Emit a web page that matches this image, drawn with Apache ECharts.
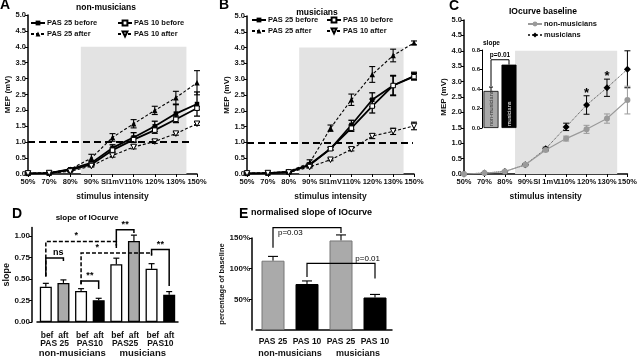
<!DOCTYPE html>
<html>
<head>
<meta charset="utf-8">
<script src="https://cdn.jsdelivr.net/npm/echarts@6/dist/echarts.min.js"></script>
<style>
  html, body { margin: 0; padding: 0; background: #fff; }
  #chart { width: 640px; height: 358px; }
</style>
</head>
<body>
<div id="chart"></div>
<script>
// stimulus intensities (x categories of panels A-C)
const intensities = ['50%', '70%', '80%', '90%', 'SI1mV', '110%', '120%', '130%', '150%']
const intensitiesC = ['50%', '70%', '80%', '90%', 'SI 1mV', '110%', '120%', '130%', '150%']

// A: non-musicians, MEP (mV)
const nmPas25Before = [0.02, 0.03, 0.15, 0.35, 0.82, 1.15, 1.5, 1.9, 2.2]
const nmPas25BeforeErr = [0.01, 0.01, 0.02, 0.06, 0.1, 0.15, 0.16, 0.28, 0.38]
const nmPas10Before = [0.02, 0.03, 0.12, 0.3, 0.75, 1.08, 1.38, 1.72, 2.07]
const nmPas10BeforeErr = [0.01, 0.01, 0.02, 0.04, 0.07, 0.08, 0.1, 0.1, 0.05]
const nmPas25After = [0.02, 0.04, 0.15, 0.5, 1.15, 1.58, 2.0, 2.4, 2.87]
const nmPas25AfterErr = [0.01, 0.01, 0.02, 0.12, 0.12, 0.13, 0.13, 0.2, 0.38]
const nmPas10After = [0.02, 0.03, 0.08, 0.25, 0.58, 0.85, 1.02, 1.27, 1.58]
const nmPas10AfterErr = [0.01, 0.01, 0.01, 0.03, 0.05, 0.06, 0.06, 0.05, 0.05]

// B: musicians, MEP (mV)
const mPas25Before = [0.02, 0.03, 0.07, 0.3, 0.8, 1.55, 2.35, 2.8, 3.1]
const mPas25BeforeErr = [0.01, 0.01, 0.02, 0.05, 0.05, 0.15, 0.22, 0.32, 0.12]
const mPas10Before = [0.02, 0.03, 0.06, 0.28, 0.8, 1.45, 2.15, 2.8, 3.08]
const mPas10BeforeErr = [0.01, 0.01, 0.02, 0.04, 0.04, 0.1, 0.22, 0.3, 0.1]
const mPas25After = [0.02, 0.04, 0.08, 0.35, 1.45, 2.35, 3.15, 3.75, 4.15]
const mPas25AfterErr = [0.01, 0.01, 0.02, 0.1, 0.1, 0.18, 0.25, 0.2, 0.06]
const mPas10After = [0.02, 0.03, 0.05, 0.22, 0.45, 0.78, 1.2, 1.35, 1.52]
const mPas10AfterErr = [0.01, 0.01, 0.01, 0.03, 0.03, 0.05, 0.08, 0.1, 0.12]

// C: IO curve baseline
const baseNm = [0.0, 0.03, 0.08, 0.3, 0.78, 1.15, 1.45, 1.8, 2.4]
const baseNmErr = [0.01, 0.01, 0.02, 0.03, 0.05, 0.08, 0.13, 0.15, 0.45]
const baseM = [0.0, 0.03, 0.08, 0.3, 0.82, 1.53, 2.24, 2.8, 3.4]
const baseMErr = [0.01, 0.01, 0.02, 0.03, 0.05, 0.12, 0.3, 0.28, 0.6]
const baseSigIdx = [6, 7]

// C inset: slope
const insetGroups = ['non-musicians', 'musicians']
const insetSlope = [0.38, 0.65]
const insetSlopeErr = [0.04, 0.0]
const insetTicks = [0, 0.2, 0.4, 0.6, 0.8]

// D: slope of IO curve, bef/aft per condition
const dConditions = ['PAS 25', 'PAS10', 'PAS25', 'PAS10']
const dGroups = ['non-musicians', 'musicians']
const slopeBef = [0.41, 0.362, 0.672, 0.619]
const slopeBefErr = [0.04, 0.026, 0.071, 0.06]
const slopeAft = [0.455, 0.254, 0.944, 0.317]
const slopeAftErr = [0.035, 0.022, 0.067, 0.037]
const dTicks = [0, 0.25, 0.5, 0.75, 1.0]

// E: normalised slope (% of baseline)
const eConditions = ['PAS 25', 'PAS 10', 'PAS 25', 'PAS 10']
const eGroups = ['non-musicians', 'musicians']
const normSlope = [113, 75, 146, 53]
const normSlopeErr = [7, 5, 9, 5]
const eTicks = [50, 100, 150]

const FONT = '"Liberation Sans", Arial, sans-serif'
const txt = (size, weight) => ({ fontSize: size, fontWeight: weight || 'bold', color: '#111', fontFamily: FONT })

const chart = echarts.init(document.getElementById('chart'))

// x axis for the IO curves: value axis over category index so the shaded band can sit between ticks
const ioX = (grid, labels) => ({
  type: 'value', gridIndex: grid, min: 0, max: 8, interval: 1,
  axisLine: { show: true, onZero: false, lineStyle: { color: '#000', width: 1.5 } },
  axisTick: { show: true, length: 3, lineStyle: { color: '#000' } },
  axisLabel: { ...txt(7.5), margin: 4, formatter: v => labels[v] || '' },
  splitLine: { show: false },
  name: 'stimulus intensity', nameLocation: 'middle', nameGap: 18, nameTextStyle: txt(8.5)
})

const mepY = grid => ({
  type: 'value', gridIndex: grid, min: 0, max: 5, interval: 0.5,
  axisLine: { show: true, lineStyle: { color: '#000', width: 1.5 } },
  axisTick: { show: true, length: 3, lineStyle: { color: '#000' } },
  axisLabel: { ...txt(7.5), margin: 2, formatter: v => v.toFixed(1) },
  splitLine: { show: false },
  name: 'MEP (mV)', nameLocation: 'middle', nameGap: 15, nameTextStyle: txt(8)
})

// grey band + dashed 1 mV line
const bgSeries = (xi, yi, lineEnd) => ({
  type: 'line', xAxisIndex: xi, yAxisIndex: yi, data: [], z: 0, silent: true,
  markArea: { silent: true, itemStyle: { color: '#e3e3e3' }, data: [[{ coord: [2.5, 0] }, { coord: [7.5, 4] }]] },
  markLine: {
    silent: true, symbol: 'none', label: { show: false },
    lineStyle: { color: '#000', type: [7, 4], width: 2 },
    data: [[{ coord: [0, 1] }, { coord: [lineEnd, 1] }]]
  }
})

const STYLES = {
  'PAS 25 before': { symbol: 'rect', symbolSize: 4.5, itemStyle: { color: '#000' }, lineStyle: { color: '#000', width: 1.8 } },
  'PAS 10 before': { symbol: 'rect', symbolSize: 4.5, itemStyle: { color: '#fff', borderColor: '#000', borderWidth: 1 }, lineStyle: { color: '#000', width: 1.8 } },
  'PAS 25 after': { symbol: 'triangle', symbolSize: 5.5, itemStyle: { color: '#000' }, lineStyle: { color: '#000', width: 1.1, type: [3, 2] } },
  'PAS 10 after': { symbol: 'triangle', symbolRotate: 180, symbolSize: 5.5, itemStyle: { color: '#fff', borderColor: '#000', borderWidth: 1 }, lineStyle: { color: '#000', width: 1.1, type: [3, 2] } },
  'non-musicians': { symbol: 'circle', symbolSize: 6, itemStyle: { color: '#9a9a9a' }, lineStyle: { color: '#9a9a9a', width: 1.2 } },
  'musicians': { symbol: 'diamond', symbolSize: 7, itemStyle: { color: '#000' }, lineStyle: { color: '#444', width: 1, type: 'dotted' } }
}

const ioLine = (name, xi, yi, vals, z) => ({
  name, type: 'line', xAxisIndex: xi, yAxisIndex: yi, z: z || 3, silent: true,
  data: vals.map((v, i) => [i, v]), ...STYLES[name]
})

// error bars drawn through the axes
const errBars = (xi, yi, means, errs, opt) => {
  opt = opt || {}
  return {
    type: 'custom', xAxisIndex: xi, yAxisIndex: yi, z: opt.z || 2, silent: true,
    data: means.map((m, i) => [i, m, errs[i]]),
    renderItem (params, api) {
      const i = api.value(0), m = api.value(1), e = api.value(2)
      if (!e) return null
      const cap = opt.cap || 3
      const t = api.coord([i, m + e])
      const b = api.coord([i, opt.upOnly ? m : m - e])
      const x = t[0] + (opt.dx || 0)
      const st = { stroke: opt.color || '#000', lineWidth: opt.width || 1.3 }
      const kids = [
        { type: 'line', shape: { x1: x, y1: t[1], x2: x, y2: b[1] }, style: st },
        { type: 'line', shape: { x1: x - cap, y1: t[1], x2: x + cap, y2: t[1] }, style: st }
      ]
      if (!opt.upOnly) kids.push({ type: 'line', shape: { x1: x - cap, y1: b[1], x2: x + cap, y2: b[1] }, style: st })
      return { type: 'group', children: kids }
    }
  }
}

// significance brackets: rows [from, to, yLine, yLeftEnd, yRightEnd]
const brackets = (xi, yi, rows, labels, xOf, opt) => ({
  type: 'custom', xAxisIndex: xi, yAxisIndex: yi, z: 6, silent: true, clip: false,
  data: rows.map(r => [r[0], r[2]]),
  renderItem (params, api) {
    const r = rows[params.dataIndex]
    const lab = labels[params.dataIndex]
    const x1 = xOf(r[0], api), x2 = xOf(r[1], api)
    const yl = api.coord([0, r[2]])[1], ya = api.coord([0, r[3]])[1], yb = api.coord([0, r[4]])[1]
    const style = { stroke: '#000', lineWidth: opt.width || 1.5, fill: null }
    if (lab.dashed) style.lineDash = [4, 2]
    const tx = x1 + (lab.frac == null ? 0.5 : lab.frac) * (x2 - x1) + (lab.dx || 0)
    return {
      type: 'group',
      children: [
        { type: 'polyline', shape: { points: [[x1, ya], [x1, yl], [x2, yl], [x2, yb]] }, style },
        {
          type: 'text',
          style: {
            text: lab.text, x: tx, y: yl + (lab.below ? 1 : -1),
            align: lab.align || 'center', verticalAlign: lab.below ? 'top' : 'bottom',
            fill: '#000', font: lab.font || ('bold 9px ' + FONT)
          }
        }
      ]
    }
  }
})

const catX = (c, api) => api.coord([c, 0])[0]
const D_OFF = 8.8
const dBarX = (b, api) => api.coord([Math.floor(b / 2), 0])[0] + (b % 2 ? 1 : -1) * D_OFF

const dRows = [
  [0, 4, 0.937, 0.53, 0.862],
  [0, 1, 0.746, 0.53, 0.71],
  [2, 6, 0.802, 0.44, 0.77],
  [2, 3, 0.478, 0.44, 0.384],
  [4, 5, 1.075, 0.888, 1.037],
  [6, 7, 0.843, 0.787, 0.42]
]
const dLabels = [
  { text: '*', dashed: true, frac: 0.43 },
  { text: 'ns', frac: 0.7, font: 'bold 9px ' + FONT },
  { text: '*', dashed: true, frac: 0.23 },
  { text: '**' },
  { text: '**' },
  { text: '**' }
]
const eRows = [
  [0, 2, 167, 134, 158],
  [1, 3, 108.7, 86.5, 84]
]
const eLabels = [
  { text: 'p=0.03', frac: 0, dx: 5, align: 'left', below: true, font: '8px ' + FONT },
  { text: 'p=0.01', frac: 1, dx: 5, align: 'right', font: '8px ' + FONT }
]
const insetRows = [[0, 1, 0.7, 0.43, 0.65]]
const insetLabels = [{ text: 'p=0.01', font: 'bold 6.5px ' + FONT }]

const legendBase = {
  orient: 'vertical', itemGap: 3, itemWidth: 14, itemHeight: 6, padding: 0,
  textStyle: { ...txt(7.5), padding: [0, 0, 0, -3] }
}

const title = (text, left, top, size, align) => ({
  text, left, top, textAlign: align || 'left', padding: 0,
  textStyle: { fontSize: size, fontWeight: 'bold', color: '#000', fontFamily: FONT }
})

const option = {
  animation: false,
  backgroundColor: '#fff',
  title: [
    title('A', 0, -2, 14), title('B', 219, -2, 14), title('C', 449, -1, 14),
    title('D', 12, 207, 14), title('E', 239, 207, 14),
    title('non-musicians', 106, 3, 8.5, 'center'),
    title('musicians', 317, 8, 8.5, 'center'),
    title('IOcurve baseline', 543, 7, 8.5, 'center'),
    title('slope of IOcurve', 87, 214, 8, 'center'),
    title('normalised slope of IOcurve', 251, 208, 9),
    title('slope', 483, 40, 6.5)
  ],
  legend: [
    { ...legendBase, data: ['PAS 25 before', 'PAS 25 after'], left: 30, top: 19 },
    { ...legendBase, data: ['PAS 10 before', 'PAS 10 after'], left: 117, top: 19 },
    { ...legendBase, data: ['PAS 25 before', 'PAS 25 after'], left: 251, top: 16 },
    { ...legendBase, data: ['PAS 10 before', 'PAS 10 after'], left: 326, top: 16 },
    { ...legendBase, data: ['non-musicians', 'musicians'], left: 527, top: 20 }
  ],
  grid: [
    { left: 28, top: 15, width: 169, height: 159 },
    { left: 247, top: 16, width: 167, height: 158 },
    { left: 464, top: 20, width: 166, height: 154 },
    { left: 482, top: 50, width: 36, height: 78 },
    { left: 37, top: 227.5, width: 141, bottom: 32 },
    { left: 256, top: 238, width: 136, bottom: 25 }
  ],
  xAxis: [
    ioX(0, intensities),
    ioX(1, intensities),
    ioX(2, intensitiesC),
    { type: 'category', gridIndex: 3, data: insetGroups, axisLine: { show: false }, axisTick: { show: false }, axisLabel: { show: false } },
    {
      type: 'category', gridIndex: 4, position: 'bottom', data: dConditions,
      axisLine: { lineStyle: { color: '#000', width: 1.5 } }, axisTick: { show: false },
      axisLabel: { ...txt(8.5), margin: 9, lineHeight: 8.5, interval: 0, formatter: v => 'bef  aft\n' + v }
    },
    {
      type: 'category', gridIndex: 4, position: 'bottom', data: dGroups,
      axisLine: { show: false }, axisTick: { show: false },
      axisLabel: { ...txt(9.5), margin: 26, interval: 0 }
    },
    {
      type: 'category', gridIndex: 5, position: 'bottom', data: eConditions,
      axisLine: { lineStyle: { color: '#000', width: 1.5 } }, axisTick: { show: false },
      axisLabel: { ...txt(8.5), margin: 7, interval: 0 }
    },
    {
      type: 'category', gridIndex: 5, position: 'bottom', data: eGroups,
      axisLine: { show: false }, axisTick: { show: false },
      axisLabel: { ...txt(9), margin: 19, interval: 0 }
    }
  ],
  yAxis: [
    mepY(0), mepY(1), mepY(2),
    {
      type: 'value', gridIndex: 3, min: 0, max: 0.8,
      axisLine: { show: true, lineStyle: { color: '#000', width: 1 } },
      axisTick: { show: true, length: 2, customValues: insetTicks },
      axisLabel: { ...txt(6), margin: 2, customValues: insetTicks, formatter: v => v.toFixed(1) },
      splitLine: { show: false }
    },
    {
      type: 'value', gridIndex: 4, min: 0, max: 1.1, offset: 5,
      axisLine: { show: true, lineStyle: { color: '#000', width: 1.5 } },
      axisTick: { show: true, length: 3, customValues: dTicks, lineStyle: { color: '#000' } },
      axisLabel: { ...txt(8), margin: 2, customValues: dTicks, formatter: v => v.toFixed(2) },
      splitLine: { show: false },
      name: 'slope', nameLocation: 'middle', nameGap: 18, nameTextStyle: txt(9)
    },
    {
      type: 'value', gridIndex: 5, min: 0, max: 150, offset: 4,
      axisLine: { show: true, lineStyle: { color: '#000', width: 1.5 } },
      axisTick: { show: true, length: 3, customValues: eTicks, lineStyle: { color: '#000' } },
      axisLabel: { ...txt(8), margin: 2, customValues: eTicks, formatter: v => v + '%' },
      splitLine: { show: false },
      name: 'percentage of baseline', nameLocation: 'middle', nameGap: 24, nameTextStyle: txt(7.5)
    }
  ],
  series: [
    // A
    bgSeries(0, 0, 7.7),
    errBars(0, 0, nmPas25Before, nmPas25BeforeErr),
    errBars(0, 0, nmPas10Before, nmPas10BeforeErr),
    errBars(0, 0, nmPas25After, nmPas25AfterErr, { width: 1.1 }),
    errBars(0, 0, nmPas10After, nmPas10AfterErr, { width: 1.1 }),
    ioLine('PAS 25 before', 0, 0, nmPas25Before),
    ioLine('PAS 10 before', 0, 0, nmPas10Before),
    ioLine('PAS 25 after', 0, 0, nmPas25After),
    ioLine('PAS 10 after', 0, 0, nmPas10After),
    // B
    bgSeries(1, 1, 7.95),
    errBars(1, 1, mPas25Before, mPas25BeforeErr),
    errBars(1, 1, mPas10Before, mPas10BeforeErr),
    errBars(1, 1, mPas25After, mPas25AfterErr, { width: 1.1 }),
    errBars(1, 1, mPas10After, mPas10AfterErr, { width: 1.1 }),
    ioLine('PAS 25 before', 1, 1, mPas25Before),
    ioLine('PAS 10 before', 1, 1, mPas10Before),
    ioLine('PAS 25 after', 1, 1, mPas25After),
    ioLine('PAS 10 after', 1, 1, mPas10After),
    // C
    bgSeries(2, 2, 8.03),
    errBars(2, 2, baseM, baseMErr, { color: '#000', width: 1 }),
    errBars(2, 2, baseNm, baseNmErr, { color: '#999', width: 1 }),
    ioLine('musicians', 2, 2, baseM, 3),
    ioLine('non-musicians', 2, 2, baseNm, 4),
    {
      type: 'custom', xAxisIndex: 2, yAxisIndex: 2, z: 5, silent: true,
      data: baseSigIdx.map(i => [i, baseM[i] + baseMErr[i]]),
      renderItem (params, api) {
        const p = api.coord([api.value(0), api.value(1)])
        return { type: 'text', style: { text: '*', x: p[0], y: p[1] + 4, align: 'center', verticalAlign: 'bottom', fill: '#000', font: 'bold 13px ' + FONT } }
      }
    },
    // C inset
    {
      type: 'bar', xAxisIndex: 3, yAxisIndex: 3, barWidth: 15, silent: true, z: 5,
      data: insetSlope.map((v, i) => ({
        value: v,
        itemStyle: { color: ['#a8a8a8', '#000'][i], borderColor: '#000', borderWidth: 0.8 },
        label: { color: ['#333', '#fff'][i] }
      })),
      label: {
        show: true, rotate: 90, position: 'insideBottom', align: 'left', verticalAlign: 'middle', distance: 2,
        fontSize: 5.5, fontFamily: FONT, formatter: p => insetGroups[p.dataIndex]
      }
    },
    errBars(3, 3, insetSlope, insetSlopeErr, { upOnly: true, width: 1, cap: 2 }),
    brackets(3, 3, insetRows, insetLabels, catX, { width: 1 }),
    // D
    {
      name: 'bef', type: 'bar', xAxisIndex: 4, yAxisIndex: 4, barWidth: 12, barGap: '47%', silent: true,
      data: slopeBef, itemStyle: { color: '#fff', borderColor: '#000', borderWidth: 1.3 }
    },
    {
      name: 'aft', type: 'bar', xAxisIndex: 4, yAxisIndex: 4, barWidth: 12, silent: true,
      data: slopeAft.map((v, i) => ({ value: v, itemStyle: { color: ['#aaaaaa', '#000', '#aaaaaa', '#000'][i] } })),
      itemStyle: { borderColor: '#000', borderWidth: 1.3 }
    },
    errBars(4, 4, slopeBef, slopeBefErr, { upOnly: true, dx: -D_OFF, width: 1.2 }),
    errBars(4, 4, slopeAft, slopeAftErr, { upOnly: true, dx: D_OFF, width: 1.2 }),
    brackets(4, 4, dRows, dLabels, dBarX, { width: 1.5 }),
    // E
    {
      type: 'bar', xAxisIndex: 6, yAxisIndex: 5, barWidth: 23, silent: true,
      data: normSlope.map((v, i) => ({
        value: v,
        itemStyle: { color: ['#aaaaaa', '#000', '#aaaaaa', '#000'][i], borderColor: ['#777', '#000', '#777', '#000'][i], borderWidth: 1 }
      }))
    },
    errBars(6, 5, normSlope, normSlopeErr, { upOnly: true, width: 1.1, cap: 5 }),
    brackets(6, 5, eRows, eLabels, catX, { width: 1.2 })
  ]
}

chart.setOption(option)
window.addEventListener('resize', () => chart.resize())
</script>
</body>
</html>
